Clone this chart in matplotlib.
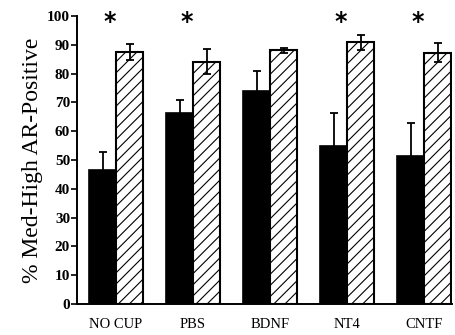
import numpy as np
import matplotlib
matplotlib.use("Agg")
import matplotlib.pyplot as plt

# values
groups = ["NO CUP", "PBS", "BDNF", "NT4", "CNTF"]
solid_vals = [46.5, 66.2, 74.1, 55.0, 51.4]
solid_err = [6.3, 4.6, 6.8, 11.2, 11.6]
hatched_vals = [87.4, 84.1, 88.0, 90.8, 87.3]
hatched_err = [2.7, 4.4, 1.0, 2.6, 3.2]
signif = [True, True, False, True, True]

plt.rcParams['font.family'] = ['Liberation Serif', 'DejaVu Serif']
plt.rcParams['hatch.linewidth'] = 0.8

fig = plt.figure(figsize=(4.56, 3.35), dpi=100)
ax = fig.add_axes([0.169, 0.0925, 0.822, 0.86])

x = np.arange(len(groups))
w = 0.35

ax.bar(x - w / 2, solid_vals, w, color="black", edgecolor="black", linewidth=1.2,
       yerr=solid_err, error_kw=dict(ecolor="black", elinewidth=1.3, capsize=3, capthick=1.3))
ax.bar(x + w / 2, hatched_vals, w, color="white", edgecolor="black", linewidth=1.5,
       hatch="///", yerr=hatched_err,
       error_kw=dict(ecolor="black", elinewidth=1.3, capsize=3, capthick=1.3))

# significance stars
for i, s in enumerate(signif):
    if s:
        ax.text(x[i] - 0.08, 98.0, "*", ha="center", va="center", fontsize=17,
                fontweight="bold", family="DejaVu Sans")

ax.set_xlim(-0.506, 4.36)
ax.set_ylim(0, 100)
ax.set_yticks(range(0, 101, 10))
ax.set_xticks(x)
ax.set_xticklabels(groups, fontsize=10.5)
ax.tick_params(axis="x", length=0, pad=10)
ax.tick_params(axis="y", length=4, width=1.2, labelsize=11, pad=1)
for lab in ax.get_yticklabels():
    lab.set_fontweight("bold")

for side in ["top", "right"]:
    ax.spines[side].set_visible(False)
for side in ["left", "bottom"]:
    ax.spines[side].set_linewidth(1.4)

ax.set_ylabel("% Med-High AR-Positive", fontsize=17, labelpad=3)

fig.savefig("out.png", dpi=100)
